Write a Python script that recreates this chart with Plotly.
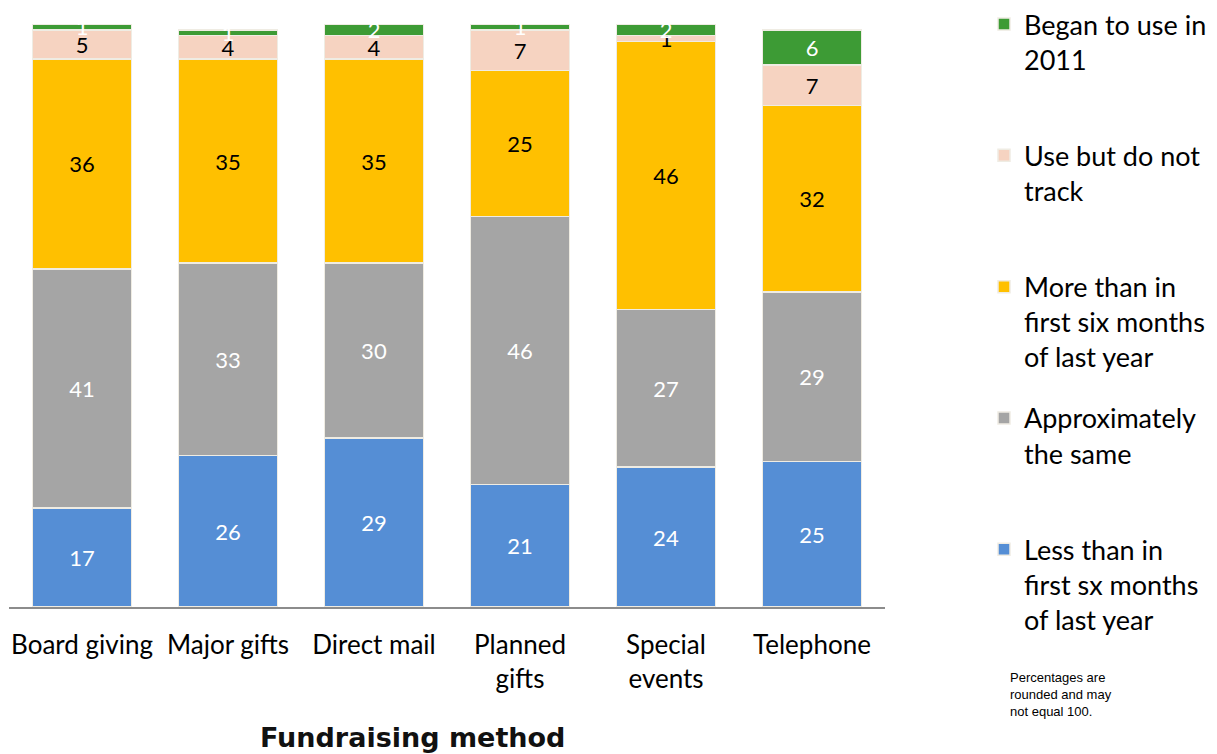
import plotly.graph_objects as go

methods = ["Board giving", "Major gifts", "Direct mail", "Planned<br>gifts", "Special<br>events", "Telephone"]

less_than = [17, 26, 29, 21, 24, 25]
about_same = [41, 33, 30, 46, 27, 29]
more_than = [36, 35, 35, 25, 46, 32]
no_track = [5, 4, 4, 7, 1, 7]
began_2011 = [1, 1, 2, 1, 2, 6]

# bottom to top stacking order
series = [
    ("Less than in<br>first sx months<br>of last year", less_than, "#558ed5", "white"),
    ("Approximately<br>the same<br> ", about_same, "#a5a5a5", "white"),
    ("More than in<br>first six months<br>of last year", more_than, "#ffc000", "black"),
    ("Use but do not<br>track<br> ", no_track, "#f6d3c1", "black"),
    ("Began to use in<br>2011<br> ", began_2011, "#3d9b35", "white"),
]

FONT = "Lato, 'Open Sans', sans-serif"

# the page body adds an 8px offset, so the figure is 8px smaller and
# all pixel positions below are page positions minus 8
OFF = 8
W, H = 1217 - OFF, 754 - OFF
L, T = 9 - OFF, 24 - OFF
R = W - (885 - OFF)
B = H - (607 - OFF)
pw = W - L - R
ph = H - T - B


def px_x(x):
    return (x - OFF - L) / pw


def px_y(y):
    return (H - B - (y - OFF)) / ph


fig = go.Figure()
for i, (name, vals, color, txtcolor) in enumerate(series):
    fig.add_trace(
        go.Bar(
            x=methods,
            y=vals,
            name=name,
            text=[str(v) for v in vals],
            textposition="inside",
            insidetextanchor="middle",
            textangle=0,
            constraintext="none",
            textfont=dict(color=txtcolor, size=22, family=FONT),
            marker=dict(color=color, line=dict(color="#efece3", width=1.5)),
            cliponaxis=False,
            legendgroup=str(i),
            legendrank=len(series) - i,
        )
    )

fig.update_layout(
    barmode="stack",
    bargap=0.32,
    width=W,
    height=H,
    margin=dict(l=L, r=R, t=T, b=B, autoexpand=False),
    paper_bgcolor="white",
    plot_bgcolor="white",
    uniformtext=dict(minsize=22, mode="show"),
    font=dict(family=FONT, color="black"),
    legend=dict(
        x=px_x(984),
        xanchor="left",
        y=px_y(0),
        yanchor="top",
        traceorder="grouped",
        tracegroupgap=23,
        valign="top",
        font=dict(size=27, family=FONT),
        itemwidth=30,
        maxheight=H,
    ),
    xaxis=dict(
        showline=True,
        linecolor="#8c8c8c",
        linewidth=2,
        ticks="",
        tickfont=dict(size=26, family=FONT),
        ticklabelstandoff=14,
        range=[-0.5, 5.5],
    ),
    yaxis=dict(visible=False, range=[0, 100], showgrid=False),
    annotations=[
        dict(
            text="<b>Fundraising method</b>",
            x=px_x(412), xref="paper", y=px_y(737), yref="paper",
            yanchor="middle", showarrow=False,
            font=dict(size=27, family="'DejaVu Sans', Verdana, sans-serif", color="#111111"),
        ),
        dict(
            text="Percentages are<br>rounded and may<br>not equal 100.",
            x=px_x(1008), y=px_y(668), xref="paper", yref="paper",
            xanchor="left", yanchor="top", align="left", showarrow=False,
            font=dict(size=13, family="'Liberation Sans', Arial, sans-serif"),
        ),
    ],
)

fig.write_html("out.html")
